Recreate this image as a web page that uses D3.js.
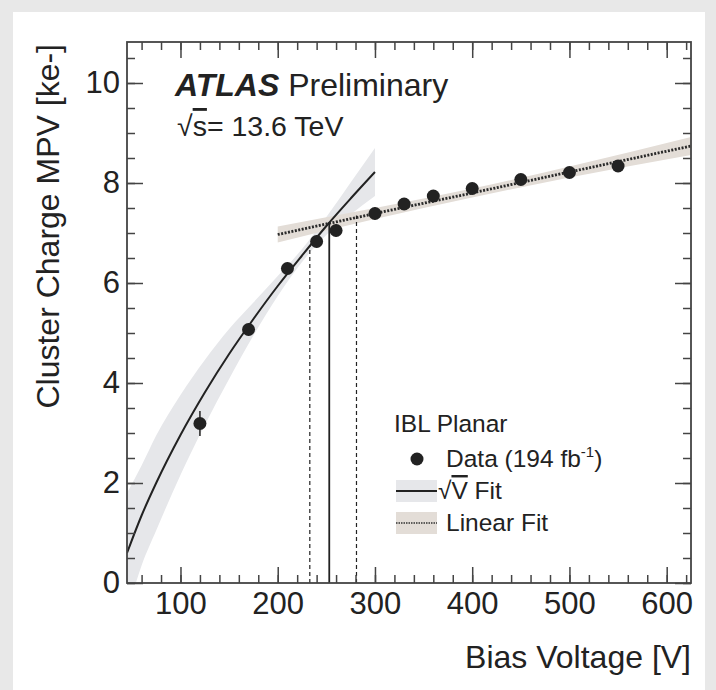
<!DOCTYPE html>
<html>
<head>
<meta charset="utf-8">
<script src="https://cdn.jsdelivr.net/npm/d3@7"></script>
<style>
  body { margin: 0; background: #e8e8e8; }
  text { font-family: "Liberation Sans", Arial, sans-serif; fill: #222; }
</style>
</head>
<body>
<div id="chart"></div>
<script>
// data
var voltage = [120, 170, 210, 240, 260, 300, 330, 360, 400, 450, 500, 550];
var mpv     = [3.19, 5.07, 6.29, 6.83, 7.05, 7.39, 7.58, 7.74, 7.89, 8.07, 8.21, 8.34];
var mpvErr  = [0.25, 0.12, 0.12, 0.12, 0.12, 0.12, 0.11, 0.11, 0.11, 0.11, 0.11, 0.11];

// sqrt(V) fit curve and its band
var sqrtV      = [45, 60, 75, 100, 125, 150, 175, 200, 225, 250, 275, 300];
var sqrtFit    = [0.60, 1.35, 2.00, 2.96, 3.81, 4.58, 5.28, 5.94, 6.55, 7.14, 7.69, 8.22];
var sqrtBandLo = [-0.60, 0.35, 1.05, 2.16, 3.16, 4.08, 4.95, 5.74, 6.42, 6.96, 7.37, 7.74];
var sqrtBandHi = [1.80, 2.35, 2.95, 3.76, 4.46, 5.08, 5.61, 6.14, 6.68, 7.32, 8.01, 8.70];

// linear fit and band
var linV      = [200, 300, 400, 500, 625];
var linFit    = [6.97, 7.39, 7.80, 8.22, 8.74];
var linBandLo = [6.81, 7.28, 7.71, 8.11, 8.56];
var linBandHi = [7.13, 7.50, 7.89, 8.33, 8.92];

// depletion voltage lines: low / central / high
var kneeV   = [233, 253, 281];
var kneeTop = [6.75, 7.22, 7.35];

var xTicks = [100, 200, 300, 400, 500, 600];
var yTicks = [0, 2, 4, 6, 8, 10];

var svgWidth = 716;
var svgHeight = 690;

var margin = { top: 42, right: 25, bottom: 107, left: 127 };
var width = svgWidth - margin.left - margin.right;
var height = svgHeight - margin.top - margin.bottom;

var svg = d3.select("#chart")
  .append("svg")
  .attr("width", svgWidth)
  .attr("height", svgHeight);

// grey page border + white canvas
svg.append("rect").attr("width", svgWidth).attr("height", svgHeight).attr("fill", "#e8e8e8");
svg.append("rect").attr("x", 13).attr("y", 12).attr("width", 692).attr("height", 678).attr("fill", "#fff");

var chartGroup = svg.append("g")
  .attr("transform", `translate(${margin.left}, ${margin.top})`);

var x = d3.scaleLinear().domain([45, 625]).range([0, width]);
var y = d3.scaleLinear().domain([0, 10.82]).range([height, 0]);

chartGroup.append("clipPath").attr("id", "clip")
  .append("rect").attr("width", width).attr("height", height);

var plot = chartGroup.append("g").attr("clip-path", "url(#clip)");

// bands
var sqrtArea = d3.area()
  .x((d, i) => x(sqrtV[i]))
  .y0((d, i) => y(sqrtBandLo[i]))
  .y1((d, i) => y(sqrtBandHi[i]))
  .curve(d3.curveMonotoneX);
plot.append("path").datum(sqrtV).attr("d", sqrtArea).attr("fill", "#e6e7ea");

var linArea = d3.area()
  .x((d, i) => x(linV[i]))
  .y0((d, i) => y(linBandLo[i]))
  .y1((d, i) => y(linBandHi[i]))
  .curve(d3.curveMonotoneX);
plot.append("path").datum(linV).attr("d", linArea).attr("fill", "#e3ddd7");

// fit lines
var sqrtLine = d3.line()
  .x((d, i) => x(sqrtV[i]))
  .y((d, i) => y(sqrtFit[i]))
  .curve(d3.curveMonotoneX);
plot.append("path").datum(sqrtV).attr("d", sqrtLine)
  .attr("fill", "none").attr("stroke", "#222").attr("stroke-width", 2);

var linLine = d3.line()
  .x((d, i) => x(linV[i]))
  .y((d, i) => y(linFit[i]));
plot.append("path").datum(linV).attr("d", linLine)
  .attr("fill", "none").attr("stroke", "#2a2a2a").attr("stroke-width", 2.8)
  .attr("stroke-dasharray", "2,1.5");

// vertical depletion lines
plot.selectAll(".knee").data(kneeV).enter().append("line")
  .attr("x1", d => x(d)).attr("x2", d => x(d))
  .attr("y1", y(0)).attr("y2", (d, i) => y(kneeTop[i]))
  .attr("stroke", "#222")
  .attr("stroke-width", (d, i) => i == 1 ? 1.8 : 1.2)
  .attr("stroke-dasharray", (d, i) => i == 1 ? null : "4,3");

// data points
plot.selectAll(".err").data(voltage).enter().append("line")
  .attr("x1", d => x(d)).attr("x2", d => x(d))
  .attr("y1", (d, i) => y(mpv[i] - mpvErr[i]))
  .attr("y2", (d, i) => y(mpv[i] + mpvErr[i]))
  .attr("stroke", "#222").attr("stroke-width", 1.5);
plot.selectAll(".pt").data(voltage).enter().append("circle")
  .attr("cx", d => x(d)).attr("cy", (d, i) => y(mpv[i]))
  .attr("r", 6.5).attr("fill", "#222");

// axes: ticks inward on all four sides
function minor(step, dom) {
  return d3.range(Math.ceil(dom[0] / step) * step, dom[1] + 1e-9, step);
}
var xMinor = minor(20, x.domain());
var yMinor = minor(0.5, y.domain());

chartGroup.append("g").attr("transform", `translate(0, ${height})`)
  .call(d3.axisBottom(x).tickValues(xTicks).tickSize(-16).tickPadding(9).tickFormat(d3.format("d")))
  .attr("class", "xaxis");
chartGroup.append("g").attr("transform", `translate(0, ${height})`)
  .call(d3.axisBottom(x).tickValues(xMinor).tickSize(-8).tickFormat(""));
chartGroup.append("g")
  .call(d3.axisTop(x).tickValues(xTicks).tickSize(-16).tickFormat(""));
chartGroup.append("g")
  .call(d3.axisTop(x).tickValues(xMinor).tickSize(-8).tickFormat(""));

chartGroup.append("g")
  .call(d3.axisLeft(y).tickValues(yTicks).tickSize(-16).tickPadding(7).tickFormat(d3.format("d")))
  .attr("class", "yaxis");
chartGroup.append("g")
  .call(d3.axisLeft(y).tickValues(yMinor).tickSize(-8).tickFormat(""));
chartGroup.append("g").attr("transform", `translate(${width}, 0)`)
  .call(d3.axisRight(y).tickValues(yTicks).tickSize(-16).tickFormat(""));
chartGroup.append("g").attr("transform", `translate(${width}, 0)`)
  .call(d3.axisRight(y).tickValues(yMinor).tickSize(-8).tickFormat(""));

chartGroup.selectAll(".domain").remove();
chartGroup.selectAll(".tick line").attr("stroke", "#444").attr("stroke-width", 1.5);
chartGroup.selectAll(".xaxis text, .yaxis text")
  .attr("font-size", 31).attr("fill", "#222").attr("font-family", "Liberation Sans");

chartGroup.append("rect").attr("width", width).attr("height", height)
  .attr("fill", "none").attr("stroke", "#444").attr("stroke-width", 1.8);

// axis titles
svg.append("text")
  .attr("transform", "translate(59, 44) rotate(-90)")
  .attr("text-anchor", "end").attr("font-size", 32)
  .text("Cluster Charge MPV [ke-]");
svg.append("text")
  .attr("x", 691).attr("y", 668).attr("text-anchor", "end").attr("font-size", 32)
  .text("Bias Voltage [V]");

// ATLAS label
var atlas = svg.append("text").attr("x", 175).attr("y", 96).attr("font-size", 32);
atlas.append("tspan").attr("font-weight", "bold").attr("font-style", "italic").text("ATLAS");
atlas.append("tspan").text(" Preliminary");

var ecm = svg.append("text").attr("x", 177).attr("y", 136).attr("font-size", 28.5);
ecm.append("tspan").text("√");
ecm.append("tspan").style("text-decoration", "overline").text("s");
ecm.append("tspan").text("= 13.6 TeV");

// legend
var lg = svg.append("g");
lg.append("text").attr("x", 394).attr("y", 432).attr("font-size", 24.5).text("IBL Planar");

lg.append("circle").attr("cx", 417).attr("cy", 459).attr("r", 6.5).attr("fill", "#222");
var dt = lg.append("text").attr("x", 446).attr("y", 467).attr("font-size", 24.5);
dt.append("tspan").text("Data (194 fb");
dt.append("tspan").attr("font-size", 15).attr("dy", -10).text("-1");
dt.append("tspan").attr("dy", 10).text(")");

lg.append("rect").attr("x", 396).attr("y", 480).attr("width", 41).attr("height", 22).attr("fill", "#e6e7ea");
lg.append("line").attr("x1", 396).attr("x2", 437).attr("y1", 491).attr("y2", 491)
  .attr("stroke", "#222").attr("stroke-width", 2);
var sv = lg.append("text").attr("x", 438).attr("y", 499).attr("font-size", 24.5);
sv.append("tspan").text("√");
sv.append("tspan").style("text-decoration", "overline").text("V");
sv.append("tspan").text(" Fit");

lg.append("rect").attr("x", 396).attr("y", 512).attr("width", 41).attr("height", 22).attr("fill", "#e3ddd7");
lg.append("line").attr("x1", 396).attr("x2", 437).attr("y1", 523).attr("y2", 523)
  .attr("stroke", "#333").attr("stroke-width", 1.5).attr("stroke-dasharray", "1.5,1");
lg.append("text").attr("x", 446).attr("y", 531).attr("font-size", 24.5).text("Linear Fit");
</script>
</body>
</html>
